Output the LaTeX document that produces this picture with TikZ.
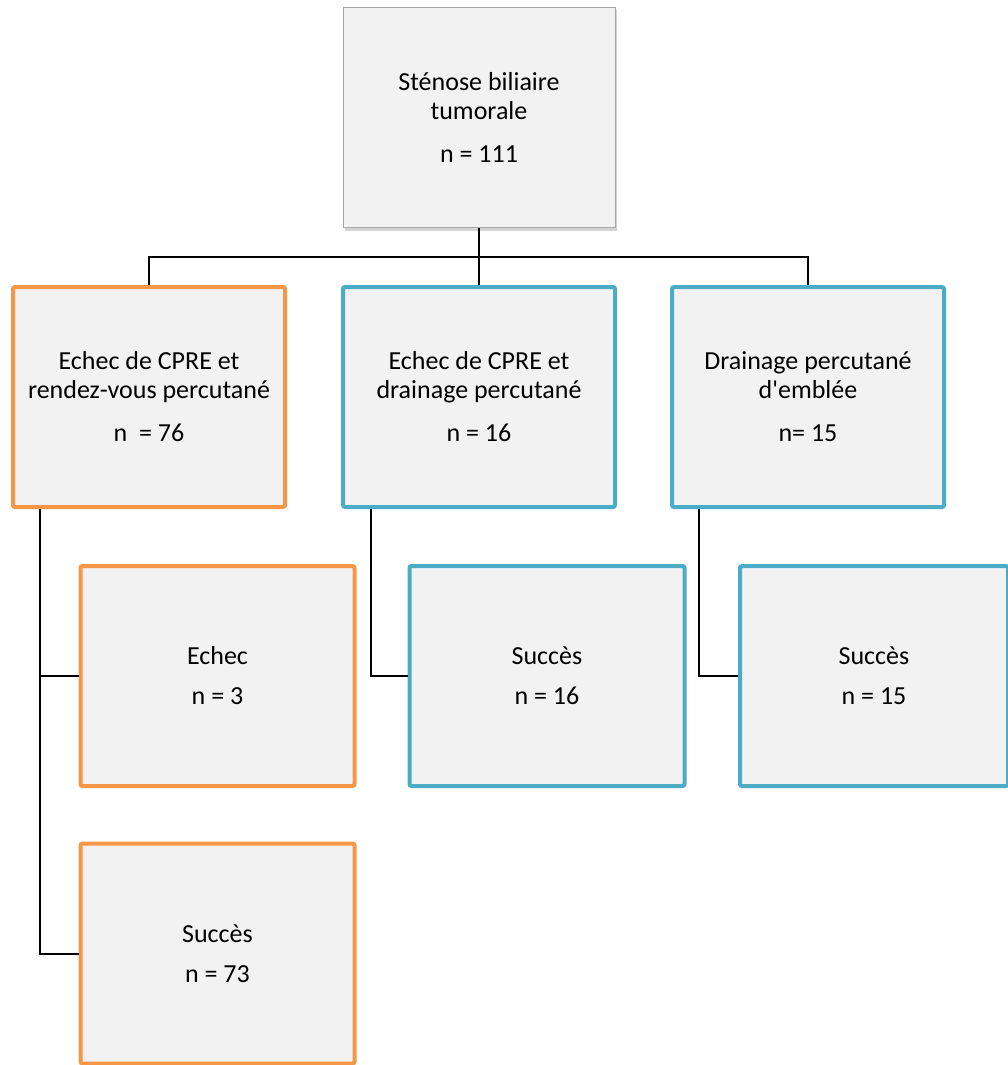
\documentclass[tikz,border=0pt]{standalone}
\usepackage{fontspec}
\setmainfont{Carlito}
\usetikzlibrary{shadows}
\definecolor{boxfill}{HTML}{F2F2F2}
\definecolor{boxorange}{HTML}{F79646}
\definecolor{boxblue}{HTML}{4BACC6}
\definecolor{boxgray}{HTML}{A6A6A6}
\begin{document}
\begin{tikzpicture}[x=1pt,y=-1pt,
    box/.style={rectangle,fill=boxfill,align=center,inner sep=0pt,
      font=\fontsize{26}{29}\selectfont,minimum width=272pt,minimum height=220pt},
    rootbox/.style={box,draw=boxgray,line width=1pt,
      drop shadow={opacity=0.35,shadow xshift=2pt,shadow yshift=-3pt}},
    orangebox/.style={box,draw=boxorange,line width=4pt,rounded corners=2pt},
    bluebox/.style={box,draw=boxblue,line width=4pt,rounded corners=2pt},
    link/.style={draw=black,line width=2pt}]
  \useasboundingbox (0,0) rectangle (1008,1065);
  \node[rootbox] (root) at (479,117.5) {St\'enose biliaire\\tumorale\\[14pt]n = 111};
  \node[orangebox] (rdv) at (149,397) {Echec de CPRE et\\rendez-vous percutan\'e\\[14pt]n\ \ = 76};
  \node[bluebox] (drain) at (479,397) {Echec de CPRE et\\drainage percutan\'e\\[14pt]n = 16};
  \node[bluebox] (direct) at (808,397) {Drainage percutan\'e\\d\textquotesingle embl\'ee\\[14pt]n= 15};
  \node[orangebox,minimum width=274pt] (rdvfail) at (217.5,676) {Echec\\[11pt]n = 3};
  \node[orangebox,minimum width=274pt] (rdvok) at (217.5,953.5) {Succ\`es\\[11pt]n = 73};
  \node[bluebox,minimum width=275pt] (drainok) at (547,676) {Succ\`es\\[11pt]n = 16};
  \node[bluebox,minimum width=268pt] (directok) at (874,676) {Succ\`es\\[11pt]n = 15};
  \coordinate (split) at (479,257);
  \begin{scope}[link]
    \draw (root.south) -- (drain.north);
    \draw (rdv.north) |- (split) -| (direct.north);
    \draw ([xshift=29pt]rdv.south west) |- (rdvfail.west);
    \draw ([xshift=29pt]rdv.south west) |- (rdvok.west);
    \draw ([xshift=30pt]drain.south west) |- (drainok.west);
    \draw ([xshift=29pt]direct.south west) |- (directok.west);
  \end{scope}
\end{tikzpicture}
\end{document}
